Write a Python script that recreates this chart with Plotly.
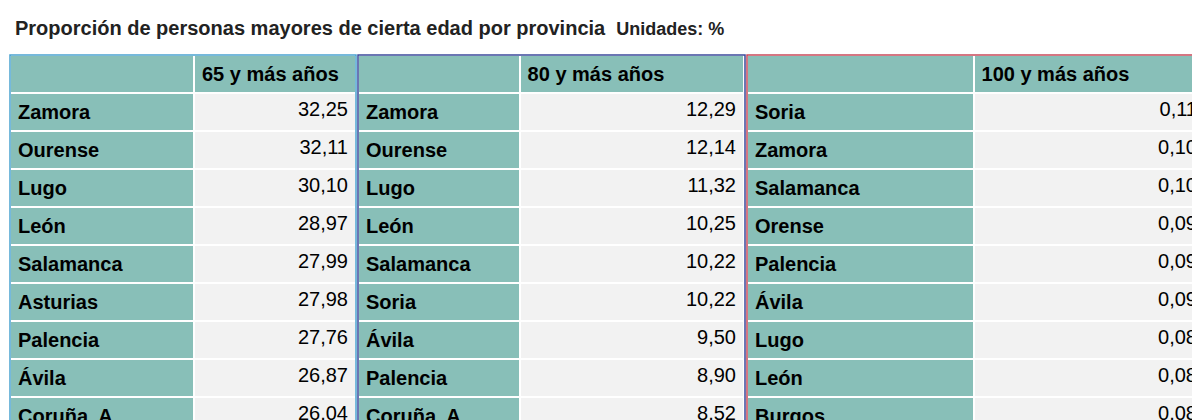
import plotly.graph_objects as go

prov65 = ["Zamora","Ourense","Lugo","León","Salamanca","Asturias","Palencia","Ávila","Coruña, A","Soria"]
val65 = ["32,25","32,11","30,10","28,97","27,99","27,98","27,76","26,87","26,04","25,72"]
prov80 = ["Zamora","Ourense","Lugo","León","Salamanca","Soria","Ávila","Palencia","Coruña, A","Asturias"]
val80 = ["12,29","12,14","11,32","10,25","10,22","10,22","9,50","8,90","8,52","8,43"]
prov100 = ["Soria","Zamora","Salamanca","Orense","Palencia","Ávila","Lugo","León","Burgos","Segovia"]
val100 = ["0,11","0,10","0,10","0,09","0,09","0,09","0,08","0,08","0,08","0,07"]
headers = ["65 y más años","80 y más años","100 y más años"]

W, H = 1200, 420
TEAL = "#88BFB8"; GREY = "#F2F2F2"
FONT = "Liberation Sans, Arial, sans-serif"
top = 47
panels = [
    (prov65, val65, headers[0], 2, 186, 348, "#4AA3D0"),
    (prov80, val80, headers[1], 350, 512, 737, "#3B4A9A"),
    (prov100, val100, headers[2], 739, 966, 1198, "#C84A5A"),
]
fig = go.Figure()
shapes = []
for prov, val, hdr, x0, xm, x1, col in panels:
    fig.add_trace(go.Table(
        domain=dict(x=[x0 / W, x1 / W], y=[0, 1 - top / H]),
        columnwidth=[xm - x0, x1 - xm],
        header=dict(values=["", "<b>" + hdr + "</b>"], fill_color=TEAL,
                    line=dict(color="white", width=2), align=["left", "left"],
                    font=dict(family=FONT, size=20, color="black"), height=36),
        cells=dict(values=[["<b>" + p + "</b>" for p in prov], val],
                   fill_color=[[TEAL] * 10, [GREY] * 10],
                   line=dict(color="white", width=2), align=["left", "right"],
                   font=dict(family=FONT, size=20, color="black"), height=33.5),
    ))
    shapes.append(dict(type="rect", xref="paper", yref="paper",
                       x0=x0 / W, x1=x1 / W, y0=0, y1=1 - top / H,
                       line=dict(color=col, width=1.5)))

fig.update_layout(
    width=W, height=H, margin=dict(l=0, r=0, t=0, b=0),
    paper_bgcolor="white", shapes=shapes,
    annotations=[dict(x=5 / W, y=1 - 20 / H, xref="paper", yref="paper",
                      xanchor="left", yanchor="middle", showarrow=False,
                      text="<b>Proporción de personas mayores de cierta edad por provincia</b>  <b><span style='font-size:18px'>Unidades: %</span></b>",
                      font=dict(family=FONT, size=20, color="#222"))],
)
fig.write_html("out.html")
